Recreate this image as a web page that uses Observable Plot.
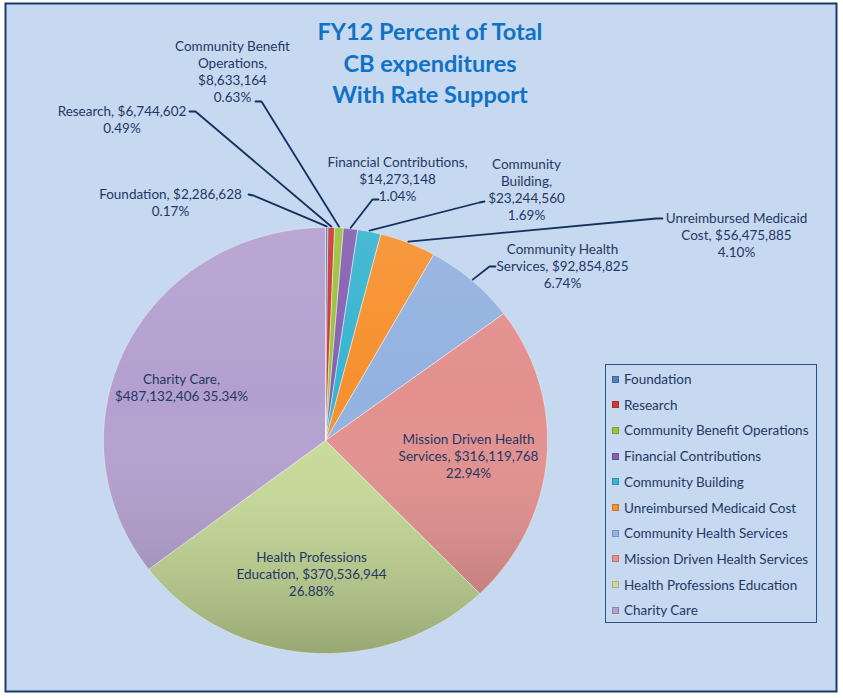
<!DOCTYPE html>
<html><head><meta charset="utf-8">
<script src="https://cdn.jsdelivr.net/npm/d3@7"></script>
<script src="https://cdn.jsdelivr.net/npm/@observablehq/plot@0.6"></script>
<style>
body{margin:0;background:#fff;}
#wrap{position:relative;width:843px;height:698px;font-family:Lato,"Open Sans",sans-serif;}
#legend{position:absolute;left:605px;top:364px;width:212px;height:259px;border:1.5px solid #2f4f80;box-sizing:border-box;}
.row{position:absolute;left:6px;height:16px;display:flex;align-items:center;font-size:13.5px;color:#1f3864;white-space:nowrap;}
.sw{width:7px;height:7px;margin-right:5px;box-shadow:inset 0 0 0 1px rgba(0,0,0,0.18);}
</style></head><body><div id="wrap"></div>
<script>
// ---- data ----
const categories = ["Foundation","Research","Community Benefit Operations","Financial Contributions","Community Building","Unreimbursed Medicaid Cost","Community Health Services","Mission Driven Health Services","Health Professions Education","Charity Care"];
const amounts = [2286628, 6744602, 8633164, 14273148, 23244560, 56475885, 92854825, 316119768, 370536944, 487132406];
const colors = ["#4f81bd","#cc3a36","#9ac23c","#8660b0","#38b4d0","#f7902e","#93b2e0","#e3908e","#c8dc98","#b4a0d0"];
const titleLines = ["FY12 Percent of Total","CB expenditures","With Rate Support"];

// ---- layout (pixels) ----
const cx = 325, cy = 440, rx = 222, ry = 213;
const X = d3.scaleLinear().domain([-1, 1]).range([cx - rx, cx + rx]);
const Y = d3.scaleLinear().domain([-1, 1]).range([cy + ry, cy - ry]);
const labelLayout = {
  "Foundation": {x: 170, y: 201.5, wrap: 22, from: [248, 194], elbow: [253, 195], attach: 0.5},
  "Research": {x: 121.5, y: 118.5, wrap: 20, from: [189, 111], elbow: [195, 111], attach: 0.5},
  "Community Benefit Operations": {x: 232, y: 71, wrap: 17, from: [255, 101], elbow: [261, 101], attach: 0.5},
  "Financial Contributions": {x: 397, y: 178, wrap: 24, from: [378, 199], elbow: [372, 199], attach: 0.5},
  "Community Building": {x: 526, y: 189, wrap: 11, from: [484, 201], elbow: [479, 202], attach: 0.5},
  "Unreimbursed Medicaid Cost": {x: 736, y: 234, wrap: 21, from: [662, 218], elbow: [656, 218], attach: 0.5},
  "Community Health Services": {x: 562, y: 265, wrap: 21, from: [495, 266], elbow: [489, 266], attach: 0.5},
  "Mission Driven Health Services": {x: 468, y: 455.5, wrap: 22},
  "Health Professions Education": {x: 311, y: 573, wrap: 23},
  "Charity Care": {x: 181, y: 386.5, wrap: 13, pctInline: true}
};

// ---- derived ----
const total = d3.sum(amounts);
const arcs = d3.pie().sort(null).value(d => d)(amounts);
const money = d3.format("$,");
function wrap(text, w) {
  const words = text.split(" "); const lines = []; let cur = "";
  for (const wd of words) {
    if (cur && (cur + " " + wd).length > w) { lines.push(cur); cur = wd; }
    else cur = cur ? cur + " " + wd : wd;
  }
  if (cur) lines.push(cur);
  return lines;
}

const slicePts = [];
arcs.forEach((a, i) => {
  const name = categories[i];
  slicePts.push({name, x: 0, y: 0});
  const n = Math.max(2, Math.ceil((a.endAngle - a.startAngle) / 0.01));
  for (let k = 0; k <= n; k++) {
    const t = a.startAngle + (a.endAngle - a.startAngle) * k / n;
    slicePts.push({name, x: Math.sin(t), y: Math.cos(t)});
  }
  slicePts.push({name, x: 0, y: 0});
});

const labels = [], leaders = [];
arcs.forEach((a, i) => {
  const name = categories[i], L = labelLayout[name];
  const pct = (amounts[i] / total * 100).toFixed(2) + "%";
  const lines = wrap(`${name}, ${money(amounts[i])}`, L.wrap);
  if (L.pctInline) lines[lines.length - 1] += " " + pct; else lines.push(pct);
  labels.push({name, x: X.invert(L.x), y: Y.invert(L.y), text: lines.join("\n")});
  if (L.from) {
    const t = a.startAngle + (a.endAngle - a.startAngle) * L.attach;
    leaders.push({name, x: X.invert(L.from[0]), y: Y.invert(L.from[1])});
    leaders.push({name, x: X.invert(L.elbow[0]), y: Y.invert(L.elbow[1])});
    leaders.push({name, x: Math.sin(t) * 1.005, y: Math.cos(t) * 1.005});
  }
});

const defs = () => {
  const ns = "http://www.w3.org/2000/svg";
  const d = document.createElementNS(ns, "defs");
  d.innerHTML = `<linearGradient id="shade" gradientUnits="userSpaceOnUse" x1="0" y1="${cy - ry}" x2="0" y2="${cy + ry}">
    <stop offset="0" stop-color="#fff" stop-opacity="0.08"/>
    <stop offset="0.4" stop-color="#fff" stop-opacity="0"/>
    <stop offset="1" stop-color="#000" stop-opacity="0.24"/></linearGradient>`;
  return d;
};

const chart = Plot.plot({
  width: 843, height: 698,
  marginTop: 3, marginLeft: 5, marginRight: 7, marginBottom: 7,
  x: {domain: [-1, 1], range: [cx - rx, cx + rx], axis: null},
  y: {domain: [-1, 1], range: [cy + ry, cy - ry], axis: null},
  color: {domain: categories, range: colors},
  style: {fontFamily: "Lato, 'Open Sans', sans-serif", background: "#fff"},
  marks: [
    Plot.frame({fill: "#c6d9f1", stroke: "#1c3a68", strokeWidth: 2}),
    defs,
    Plot.line(slicePts, {x: "x", y: "y", z: "name", fill: "name", stroke: "none"}),
    Plot.line(slicePts, {x: "x", y: "y", z: "name", fill: "url(#shade)", stroke: "#ffffff", strokeOpacity: 0.35, strokeWidth: 1}),
    Plot.line(leaders, {x: "x", y: "y", z: "name", stroke: "#15305e", strokeWidth: 1.8}),
    Plot.text(labels, {x: "x", y: "y", text: "text", fontSize: 13.5, fill: "#1f3864", lineAnchor: "middle", textAnchor: "middle", lineHeight: 1.26}),
    Plot.text([titleLines.join("\n")], {frameAnchor: "top", dx: 9, dy: 58, text: d => d, lineAnchor: "middle", fontSize: 23.5, fontWeight: "bold", fill: "#0f72c4", lineHeight: 1.33})
  ]
});

const wrapEl = document.getElementById("wrap");
wrapEl.appendChild(chart);
const leg = document.createElement("div");
leg.id = "legend";
const colorScale = chart.scale("color");
categories.forEach((c, i) => {
  const r = document.createElement("div");
  r.className = "row";
  r.style.top = (6 + i * 25.7) + "px";
  const sw = document.createElement("span");
  sw.className = "sw";
  sw.style.background = colorScale.apply(c);
  const t = document.createElement("span");
  t.textContent = c;
  r.appendChild(sw); r.appendChild(t);
  leg.appendChild(r);
});
wrapEl.appendChild(leg);
chart.style.position = "absolute"; chart.style.left = "0"; chart.style.top = "0";
</script></body></html>
